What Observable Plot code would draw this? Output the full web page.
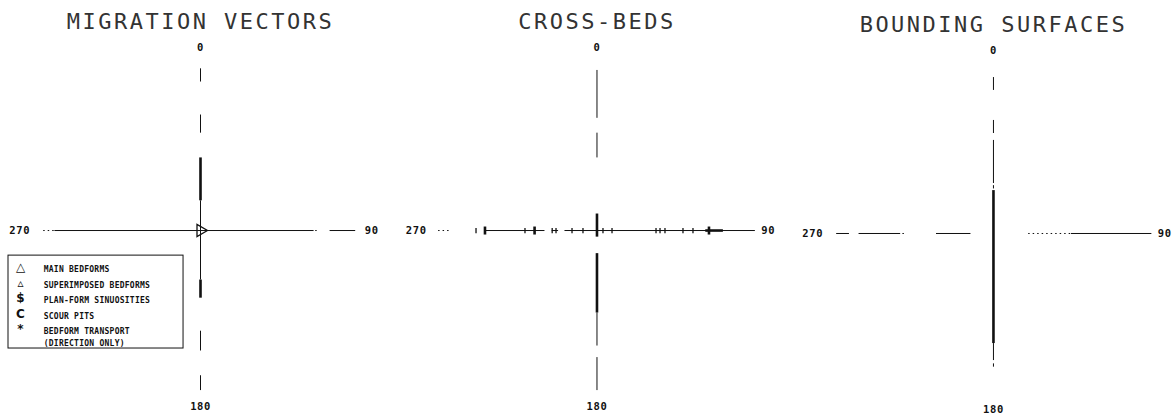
<!DOCTYPE html>
<html>
<head>
<meta charset="utf-8">
<script src="https://cdn.jsdelivr.net/npm/d3@7"></script>
<script src="https://cdn.jsdelivr.net/npm/@observablehq/plot@0.6"></script>
<style>
  html, body { margin: 0; padding: 0; background: #fff; }
  #chart { width: 1174px; height: 416px; overflow: hidden; }
  g[aria-description="panel-title"] text { letter-spacing: 2.5px; }
  g[aria-description="legend-label"] text { letter-spacing: 0.25px; }
  g[aria-description="compass-label"] text { letter-spacing: 0.6px; }
</style>
</head>
<body>
<div id="chart"></div>
<script>
// ---------------- DATA ----------------
const panels = ["MIGRATION VECTORS", "CROSS-BEDS", "BOUNDING SURFACES"];
const compassLabels = ["0", "90", "180", "270"];
const compassAngles = [0, 90, 180, 270];

// North–south (0–180) axis segments: [panel, from, to] in compass radii (north positive)
const nsLight = [
  [0, 0.98, 0.90], [0, 0.70, 0.59], [0, 0.18, -0.30], [0, -0.61, -0.73], [0, -0.88, -0.97],
  [1, 0.97, 0.68], [1, 0.59, 0.44], [1, -0.50, -0.70], [1, -0.77, -0.97],
  [2, 0.945, 0.867], [2, 0.685, 0.606], [2, 0.564, 0.303], [2, 0.29, 0.27], [2, -0.667, -0.77], [2, -0.79, -0.81]
];
const nsHeavy = [
  [0, 0.44, 0.18], [0, -0.30, -0.41],
  [1, 0.10, -0.04], [1, -0.14, -0.50],
  [2, 0.26, -0.667]
];
// East–west (270–90) axis segments: [panel, from, to] in compass radii (east positive)
const ewLight = [
  [0, -0.91, 0.71], [0, 0.81, 0.97],
  [1, -0.70, -0.325], [1, -0.28, -0.24], [1, -0.20, 0.99],
  [2, -0.98, -0.90], [2, -0.84, -0.58], [2, -0.356, -0.144], [2, 0.4875, 0.99]
];
const ewHeavy = [[1, 0.68, 0.79]];
const ewDotted = [
  [0, -0.98, -0.91], [0, 0.72, 0.74],
  [1, -0.99, -0.91],
  [2, -0.566, -0.546], [2, -0.15, -0.13], [2, 0.22, 0.4875]
];
// Cross-bed vectors along the east–west axis (compass radii)
const crossBedMinor = [-0.756, -0.45, -0.28, -0.256, -0.156, -0.0875, 0.0375, 0.094, 0.369, 0.394, 0.425, 0.5375, 0.6];
const crossBedMajor = [-0.70, -0.39, 0.70];
// Migration vectors (azimuth, degrees)
const migrationVectors = [90];

// Legend
const legendSymbols = ["\u25B3", "\u25B5", "$", "C", "*"];
const legendLabels = ["MAIN BEDFORMS", "SUPERIMPOSED BEDFORMS", "PLAN-FORM SINUOSITIES", "SCOUR PITS", "BEDFORM TRANSPORT\n(DIRECTION ONLY)"];

// ---------------- LAYOUT ----------------
const SPACING = 2.478;           // distance between panel centres, in compass radii
const panelDy = [0, 0, -0.018];  // small vertical offset of each compass
const LABEL_R = {0: 1.11, 90: 1.07, 180: 1.07, 270: 1.13};
const TITLE_Y = 1.265;
const LEG = {x1: -1.2, x2: -0.106, y1: -0.152, y2: -0.715, symX: -1.125, textX: -0.98, row0: -0.224, step: -0.094};

const ns = arr => arr.map(([p, a, b]) => ({x: p * SPACING, y1: a + panelDy[p], y2: b + panelDy[p]}));
const ew = arr => arr.map(([p, a, b]) => ({y: panelDy[p], x1: p * SPACING + a, x2: p * SPACING + b}));

const labelRows = [];
panels.forEach((_, p) => {
  compassAngles.forEach((ang, k) => {
    const r = LABEL_R[ang], rad = ang * Math.PI / 180;
    labelRows.push({x: p * SPACING + Math.sin(rad) * r, y: panelDy[p] + Math.cos(rad) * r, text: compassLabels[k]});
  });
});

const vbar = {
  draw(ctx, size) {
    const r = Math.sqrt(size / Math.PI);
    ctx.moveTo(0, -r); ctx.lineTo(0, r);
  }
};

const legendRows = legendLabels.map((t, i) => ({sym: legendSymbols[i], text: t, y: LEG.row0 + i * LEG.step}));

const chart = Plot.plot({
  width: 1174,
  height: 416,
  margin: 0,
  x: {domain: [-1.25, 6.0875], axis: null},
  y: {domain: [-1.127, 1.394], axis: null},
  style: {fontFamily: "'DejaVu Sans Mono', monospace", background: "#fff", color: "#111"},
  marks: [
    // titles
    Plot.text(panels, {x: (d, i) => i * SPACING, y: (d, i) => TITLE_Y + panelDy[i], text: d => d,
      fontSize: 22, fill: "#333", ariaDescription: "panel-title"}),
    // axes
    Plot.ruleX(ns(nsLight), {x: "x", y1: "y1", y2: "y2", stroke: "#111", strokeWidth: 1}),
    Plot.ruleX(ns(nsHeavy), {x: "x", y1: "y1", y2: "y2", stroke: "#111", strokeWidth: 2.6}),
    Plot.ruleY(ew(ewLight), {y: "y", x1: "x1", x2: "x2", stroke: "#111", strokeWidth: 1}),
    Plot.ruleY(ew(ewHeavy), {y: "y", x1: "x1", x2: "x2", stroke: "#111", strokeWidth: 2.6}),
    Plot.ruleY(ew(ewDotted), {y: "y", x1: "x1", x2: "x2", stroke: "#111", strokeWidth: 1, strokeDasharray: "1.5,3"}),
    // cross-bed vectors
    Plot.dot(crossBedMinor, {x: d => SPACING + d, y: panelDy[1], symbol: vbar, r: 2.6, stroke: "#111", strokeWidth: 1.3}),
    Plot.dot(crossBedMajor, {x: d => SPACING + d, y: panelDy[1], symbol: vbar, r: 4, stroke: "#111", strokeWidth: 2.6}),
    // migration vector marker
    Plot.dot(migrationVectors, {x: 0, y: panelDy[0], symbol: "triangle", rotate: d => d, r: 4.5,
      fill: "none", stroke: "#111", strokeWidth: 1.3}),
    // compass labels
    Plot.text(labelRows, {x: "x", y: "y", text: "text", fontSize: 10.5, fontWeight: "bold", fill: "#111", ariaDescription: "compass-label"}),
    // legend box
    Plot.rect([0], {x1: LEG.x1, x2: LEG.x2, y1: LEG.y1, y2: LEG.y2, fill: "none", stroke: "#111", strokeWidth: 1}),
    Plot.text(legendRows, {x: LEG.symX, y: "y", text: "sym", fontSize: 12, fontWeight: "bold", fill: "#111",
      fontFamily: "'DejaVu Sans', sans-serif"}),
    Plot.text(legendRows, {x: LEG.textX, y: "y", text: "text", textAnchor: "start", lineAnchor: "top", dy: -4,
      lineHeight: 1.5, fontSize: 8, fontWeight: "bold", fill: "#111", ariaDescription: "legend-label"})
  ]
});
document.getElementById("chart").appendChild(chart);
</script>
</body>
</html>
